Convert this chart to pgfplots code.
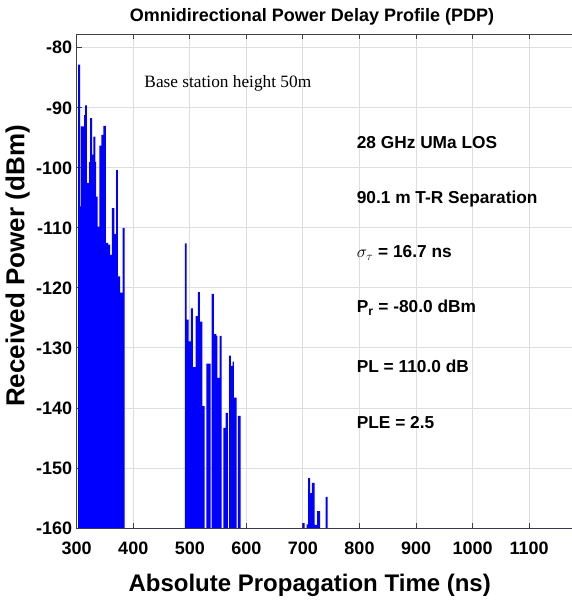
\documentclass[border=0pt]{standalone}
\usepackage{pgfplots}
\pgfplotsset{compat=1.18}
\usepackage{fontspec}
\setmainfont{Liberation Sans}
\newfontfamily\timesfont{Liberation Serif}
\pgfplotstableread{
x y
300.0 -160
302.4 -82.8
305.9 -106.4
307.5 -93.1
313.0 -91.2
314.7 -89.6
318.2 -102.5
321.8 -99.0
323.6 -91.7
327.1 -97.8
329.4 -94.8
333.0 -99.0
334.2 -104.8
337.1 -109.8
340.0 -96.3
343.6 -94.5
347.1 -93.0
351.8 -112.5
355.4 -112.8
358.9 -114.5
362.4 -106.7
366.5 -111.0
369.5 -100.4
373.0 -118.1
376.6 -120.8
381.3 -110.0
384.8 -160
491.4 -112.6
494.3 -125.3
497.9 -128.9
502.0 -123.4
505.5 -133.2
510.2 -124.7
514.3 -120.7
517.8 -125.6
522.0 -139.7
526.2 -160
529.1 -132.6
536.7 -160
538.5 -121.0
542.6 -127.7
546.8 -128.0
548.5 -135.0
552.7 -128.0
556.2 -160
559.1 -143.3
563.2 -140.8
567.3 -160
569.7 -131.3
572.7 -133.0
575.6 -132.3
577.9 -138.3
582.7 -160
585.0 -141.3
589.7 -160
699.8 -159.2
702.8 -160
706.4 -159.4
709.3 -151.7
712.5 -154.2
716.0 -152.5
720.5 -159.5
725.0 -157.2
730.5 -160
739.9 -154.8
743.5 -160
1184 -160
}\pdp
\begin{document}
\begin{tikzpicture}
\path[use as bounding box] (-76.7pt,-75pt) rectangle (495.3pt,528pt);
\begin{axis}[
  at={(0pt,0pt)}, anchor=south west,
  scale only axis, width=500pt, height=494pt,
  xmin=300, xmax=1184, ymin=-160, ymax=-77.7,
  xtick={300,400,500,600,700,800,900,1000,1100},
  xticklabels={300,400,500,600,700,800,900,1000,1100},
  ytick={-160,-150,-140,-130,-120,-110,-100,-90,-80},
  yticklabels={-160,-150,-140,-130,-120,-110,-100,-90,-80},
  tick align=inside, tick pos=both, major tick length=5pt,
  grid=major, major grid style={black!13, line width=0.9pt},
  axis line style={black!75, line width=0.9pt},
  tick style={black!75, line width=0.9pt},
  ticklabel style={font=\bfseries\fontsize{18}{18}\selectfont},
  xticklabel style={yshift=-10pt},
  yticklabel style={xshift=-1pt},
]
\addplot[fill={rgb,255:red,0;green,0;blue,255}, draw=none, const plot] table[x=x,y=y] {\pdp};
\node[anchor=west, font=\timesfont\fontsize{17.3}{17}\selectfont] at (axis cs:413.6,-86) {Base station height 50m};
\begin{scope}[every node/.style={anchor=west, font=\bfseries\fontsize{17.3}{17}\selectfont}]
\node at (axis cs:789,-95.8) {28 GHz UMa LOS};
\node at (axis cs:789,-105.2) {90.1 m T-R Separation};
\node at (axis cs:789,-114.2) {$\sigma_\tau$ = 16.7 ns};
\node at (axis cs:789,-123.3) {P\textsubscript{r} = -80.0 dBm};
\node at (axis cs:789,-133.0) {PL = 110.0 dB};
\node at (axis cs:789,-142.5) {PLE = 2.5};
\end{scope}
\end{axis}
\node[font=\bfseries\fontsize{18}{18}\selectfont] at (235.3pt,511pt) {Omnidirectional Power Delay Profile (PDP)};
\node[font=\bfseries\fontsize{24}{24}\selectfont] at (233pt,-57pt) {Absolute Propagation Time (ns)};
\node[font=\bfseries\fontsize{26}{26}\selectfont, rotate=90] at (-59pt,262pt) {Received Power (dBm)};
\end{tikzpicture}
\end{document}
